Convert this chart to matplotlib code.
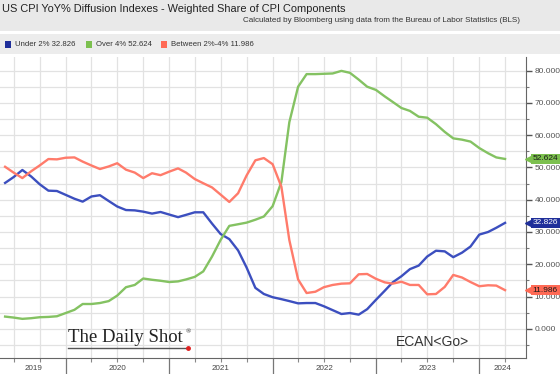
import matplotlib
matplotlib.use("Agg")
import matplotlib.pyplot as plt
import matplotlib.dates as mdates
import matplotlib.transforms as mtransforms
import numpy as np
import pandas as pd

# monthly observations, Jun 2019 .. Apr 2024 (plot positions)
dates = pd.date_range("2019-06-01", periods=59, freq="MS")

under_2 = [45.2, 47.0, 49.2, 47.2, 44.8, 42.8, 42.7, 41.5, 40.3, 39.4,
           41.0, 41.4, 39.6, 37.9, 36.8, 36.7, 36.3, 35.7, 36.2, 35.4,
           34.6, 35.3, 36.1, 36.1, 32.6, 29.4, 27.8, 24.3, 19.0, 12.7,
           10.8, 9.8, 9.2, 8.6, 7.9, 8.0, 8.0, 7.0, 5.8, 4.6,
           4.9, 4.4, 6.1, 9.0, 11.8, 14.4, 16.3, 18.5, 19.6, 22.4,
           24.2, 24.0, 22.2, 23.6, 25.5, 29.2, 30.0, 31.3, 32.826]

over_4 = [3.8, 3.5, 3.1, 3.3, 3.6, 3.7, 3.9, 4.9, 5.9, 7.7,
          7.7, 8.0, 8.6, 10.3, 12.9, 13.6, 15.6, 15.2, 14.9, 14.5,
          14.7, 15.3, 16.1, 17.8, 22.4, 27.5, 31.9, 32.4, 32.9, 33.8,
          34.8, 38.0, 45.5, 64.0, 75.0, 78.9, 78.9, 79.0, 79.1, 79.9,
          79.3, 77.2, 75.0, 74.0, 72.0, 70.3, 68.4, 67.5, 65.7, 65.4,
          63.4, 61.0, 59.0, 58.6, 58.0, 56.0, 54.4, 53.1, 52.624]

between = [50.2, 48.4, 46.7, 48.8, 50.6, 52.6, 52.5, 53.0, 53.1, 51.8,
           50.6, 49.5, 50.3, 51.3, 49.3, 48.4, 46.7, 48.2, 47.6, 48.7,
           49.7, 48.4, 46.4, 45.1, 43.8, 41.6, 39.3, 42.0, 47.5, 52.2,
           52.9, 51.0, 44.0, 27.5, 15.3, 11.1, 11.5, 12.9, 13.6, 14.0,
           14.1, 16.9, 17.0, 15.5, 14.4, 14.0, 14.6, 13.6, 13.6, 10.7,
           10.8, 13.0, 16.7, 15.9, 14.5, 13.2, 13.5, 13.4, 11.986]

series = [
    ("Under 2%", under_2, "#3c4fbf", "#1f2f9a", "white"),
    ("Over 4%", over_4, "#84c262", "#7cc04f", "#1a1a1a"),
    ("Between 2%-4%", between, "#ff7b6b", "#ff6a55", "#1a1a1a"),
]

years = [2019, 2020, 2021, 2022, 2023, 2024]

plt.rcParams["font.family"] = ["Liberation Sans", "DejaVu Sans"]

fig = plt.figure(figsize=(5.6, 3.74), dpi=100, facecolor="white")

# header bands
fig.patches.append(plt.Rectangle((0, 1 - 31 / 374), 1, 31 / 374, transform=fig.transFigure,
                                 facecolor="#e9e9e9", edgecolor="none", zorder=0))
fig.patches.append(plt.Rectangle((0, 1 - 54 / 374), 1, 20 / 374, transform=fig.transFigure,
                                 facecolor="#ececec", edgecolor="none", zorder=0))

fig.text(0.004, 1 - 9 / 374, "US CPI YoY% Diffusion Indexes - Weighted Share of CPI Components",
         fontsize=7.9, color="#222222", va="center", ha="left")
fig.text(0.929, 1 - 20 / 374,
         "Calculated by Bloomberg using data from the Bureau of Labor Statistics (BLS)",
         fontsize=5.8, color="#333333", va="center", ha="right")

# legend row
lx = 5
for name, vals, col, tagcol, tagtxt in series:
    fig.patches.append(plt.Rectangle((lx / 560, 1 - 48 / 374), 6 / 560, 7 / 374,
                                     transform=fig.transFigure, facecolor=tagcol,
                                     edgecolor="none"))
    fig.text((lx + 10) / 560, 1 - 44.5 / 374, f"{name} {vals[-1]:.3f}",
             fontsize=5.6, color="#333333", va="center", ha="left")
    lx += {"Under 2%": 81, "Over 4%": 75, "Between 2%-4%": 0}[name]

ax = fig.add_axes([0.0, 0.043, 526 / 560, 1 - 57 / 374 - 0.043])
ax.set_facecolor("white")

for name, vals, col, tagcol, tagtxt in series:
    ax.plot(dates, vals, color=col, linewidth=1.7, zorder=3)

ax.set_xlim(pd.Timestamp("2019-05-14"), pd.Timestamp("2024-06-14"))
ax.set_ylim(-9, 84.2)

# y axis on the right
ax.yaxis.tick_right()
ax.set_yticks(np.arange(0, 81, 10))
ax.set_yticks(np.arange(-5, 84, 5), minor=True)
ax.yaxis.set_major_formatter(matplotlib.ticker.FormatStrFormatter("%.3f"))
ax.tick_params(axis="y", which="major", length=4, width=1, color="#555555",
               labelsize=6, labelcolor="#555555", pad=2)
ax.tick_params(axis="y", which="minor", length=2.5, width=0.8, color="#777777")

# x axis: quarters + year separators
ax.xaxis.set_major_locator(mdates.YearLocator())
ax.xaxis.set_minor_locator(mdates.MonthLocator(bymonth=[1, 4, 7, 10]))
ax.xaxis.set_major_formatter(matplotlib.ticker.NullFormatter())
ax.tick_params(axis="x", which="major", length=12, width=0.9, color="#777777")
ax.tick_params(axis="x", which="minor", length=3, width=0.8, color="#888888")

ax.grid(True, which="both", axis="both", color="#e2e2e2", linewidth=0.9, zorder=0)

for s in ["top", "left"]:
    ax.spines[s].set_visible(False)
ax.spines["right"].set_color("#666666")
ax.spines["bottom"].set_color("#666666")

# year labels centred in the visible part of each year
x0, x1 = ax.get_xlim()
trans = mtransforms.blended_transform_factory(ax.transData, ax.transAxes)
for yr in years:
    a = max(mdates.date2num(pd.Timestamp(f"{yr}-01-01")), x0)
    b = min(mdates.date2num(pd.Timestamp(f"{yr + 1}-01-01")), x1)
    ax.text((a + b) / 2 + (3 if yr == 2019 else 0), -0.035, str(yr), transform=trans,
            ha="center", va="center", fontsize=5.8, color="#444444", clip_on=False)

# last value tags on the right axis
ytrans = mtransforms.blended_transform_factory(ax.transAxes, ax.transData)
for name, vals, col, tagcol, tagtxt in series:
    ax.plot([1.006], [vals[-1]], marker="<", markersize=6, color=tagcol,
            transform=ytrans, clip_on=False, zorder=5)
    ax.text(1.013, vals[-1], f"{vals[-1]:.3f}", transform=ytrans, ha="left",
            va="center", fontsize=6, color=tagtxt, clip_on=False, zorder=6,
            bbox=dict(boxstyle="square,pad=0.2", facecolor=tagcol, edgecolor="none"))

# watermarks
fig.text(68 / 560, 1 - 338 / 374, "The Daily Shot", family="Liberation Serif",
         fontsize=13.5, color="#222222", va="center", ha="left")
fig.text(186 / 560, 1 - 332 / 374, "®", family="Liberation Serif",
         fontsize=5, color="#222222", va="center", ha="left")
fig.lines.append(plt.Line2D([68 / 560, 187 / 560], [1 - 348 / 374] * 2,
                            transform=fig.transFigure, color="#555555", linewidth=1))
fig.lines.append(plt.Line2D([188 / 560], [1 - 348 / 374], transform=fig.transFigure,
                            marker="o", markersize=2.5, color="#e02020", linestyle="none"))
fig.text(396 / 560, 1 - 342 / 374, "ECAN<Go>", fontsize=10, color="#333333",
         va="center", ha="left")

fig.savefig("out.png", dpi=100)
